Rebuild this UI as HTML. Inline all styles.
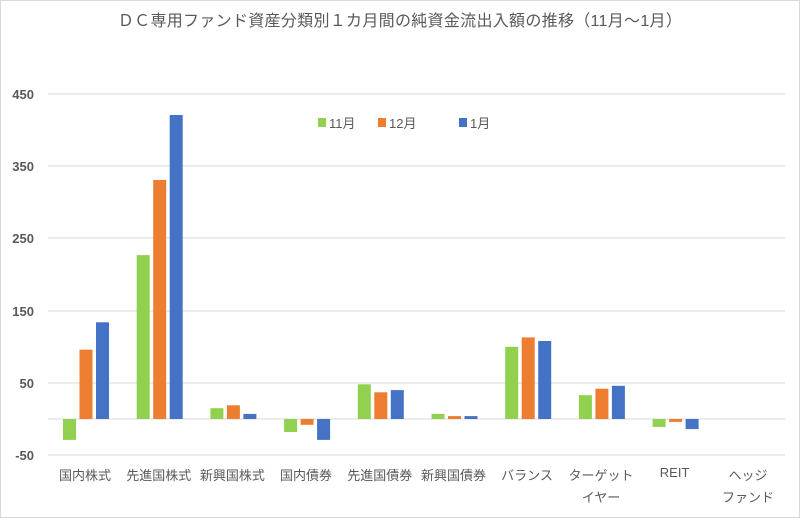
<!DOCTYPE html>
<html><head><meta charset="utf-8"><style>
body{margin:0;background:#fff}
svg{display:block}
text{font-family:"Liberation Sans","Noto Sans CJK JP",sans-serif;fill:#595959}
</style></head><body>
<svg width="800" height="518" viewBox="0 0 800 518">
<rect x="0.5" y="0.5" width="799" height="517" fill="#fff" stroke="#d9d9d9"/>
<text x="400" y="26" font-size="16" text-anchor="middle" letter-spacing="0.3">ＤＣ専用ファンド資産分類別１カ月間の純資金流出入額の推移（11月～1月）</text>
<g stroke="#d9d9d9" stroke-width="1">
<line x1="48" x2="785" y1="94" y2="94"/><line x1="48" x2="785" y1="166" y2="166"/>
<line x1="48" x2="785" y1="238" y2="238"/><line x1="48" x2="785" y1="311" y2="311"/>
<line x1="48" x2="785" y1="383" y2="383"/><line x1="48" x2="785" y1="419" y2="419"/>
<line x1="48" x2="785" y1="455" y2="455"/>
</g>
<g font-size="13" font-weight="bold" text-anchor="end">
<text x="34" y="99">450</text><text x="34" y="171">350</text><text x="34" y="243">250</text>
<text x="34" y="316">150</text><text x="34" y="388">50</text><text x="34" y="460">-50</text>
</g>
<g>
<rect x="63" y="419" width="13" height="20.9" fill="#92d050"/>
<rect x="79.5" y="349.7" width="13" height="69.3" fill="#ed7d31"/>
<rect x="96" y="322.3" width="13" height="96.7" fill="#4472c4"/>
<rect x="136.7" y="255.1" width="13" height="163.9" fill="#92d050"/>
<rect x="153.2" y="180" width="13" height="239" fill="#ed7d31"/>
<rect x="169.7" y="115" width="13" height="304" fill="#4472c4"/>
<rect x="210.4" y="408.2" width="13" height="10.8" fill="#92d050"/>
<rect x="226.9" y="405.3" width="13" height="13.7" fill="#ed7d31"/>
<rect x="243.4" y="413.9" width="13" height="5.1" fill="#4472c4"/>
<rect x="284.1" y="419" width="13" height="13" fill="#92d050"/>
<rect x="300.6" y="419" width="13" height="5.8" fill="#ed7d31"/>
<rect x="317.1" y="419" width="13" height="20.9" fill="#4472c4"/>
<rect x="357.8" y="384.3" width="13" height="34.7" fill="#92d050"/>
<rect x="374.3" y="392.3" width="13" height="26.7" fill="#ed7d31"/>
<rect x="390.8" y="390.1" width="13" height="28.9" fill="#4472c4"/>
<rect x="431.5" y="413.9" width="13" height="5.1" fill="#92d050"/>
<rect x="448" y="416.1" width="13" height="2.9" fill="#ed7d31"/>
<rect x="464.5" y="416.1" width="13" height="2.9" fill="#4472c4"/>
<rect x="505.2" y="346.8" width="13" height="72.2" fill="#92d050"/>
<rect x="521.7" y="337.4" width="13" height="81.6" fill="#ed7d31"/>
<rect x="538.2" y="341" width="13" height="78" fill="#4472c4"/>
<rect x="578.9" y="395.2" width="13" height="23.8" fill="#92d050"/>
<rect x="595.4" y="388.7" width="13" height="30.3" fill="#ed7d31"/>
<rect x="611.9" y="385.8" width="13" height="33.2" fill="#4472c4"/>
<rect x="652.6" y="419" width="13" height="7.9" fill="#92d050"/>
<rect x="669.1" y="419" width="13" height="2.9" fill="#ed7d31"/>
<rect x="685.6" y="419" width="13" height="10.1" fill="#4472c4"/>
</g>
<g font-size="13" text-anchor="middle">
<text x="85" y="480">国内株式</text><text x="158.7" y="480">先進国株式</text><text x="232.4" y="480">新興国株式</text>
<text x="306" y="480">国内債券</text><text x="379.8" y="480">先進国債券</text><text x="453.5" y="480">新興国債券</text>
<text x="527" y="480">バランス</text><text x="601" y="480">ターゲット</text><text x="601" y="502">イヤー</text>
<text x="674.6" y="477">REIT</text><text x="748" y="480">ヘッジ</text><text x="748" y="502">ファンド</text>
</g>
<g font-size="13">
<rect x="318" y="118" width="8" height="9" fill="#92d050"/><text x="329" y="128">11月</text>
<rect x="378" y="118" width="8" height="9" fill="#ed7d31"/><text x="389" y="128">12月</text>
<rect x="459" y="118" width="8" height="9" fill="#4472c4"/><text x="470" y="128">1月</text>
</g>
</svg>
</body></html>
